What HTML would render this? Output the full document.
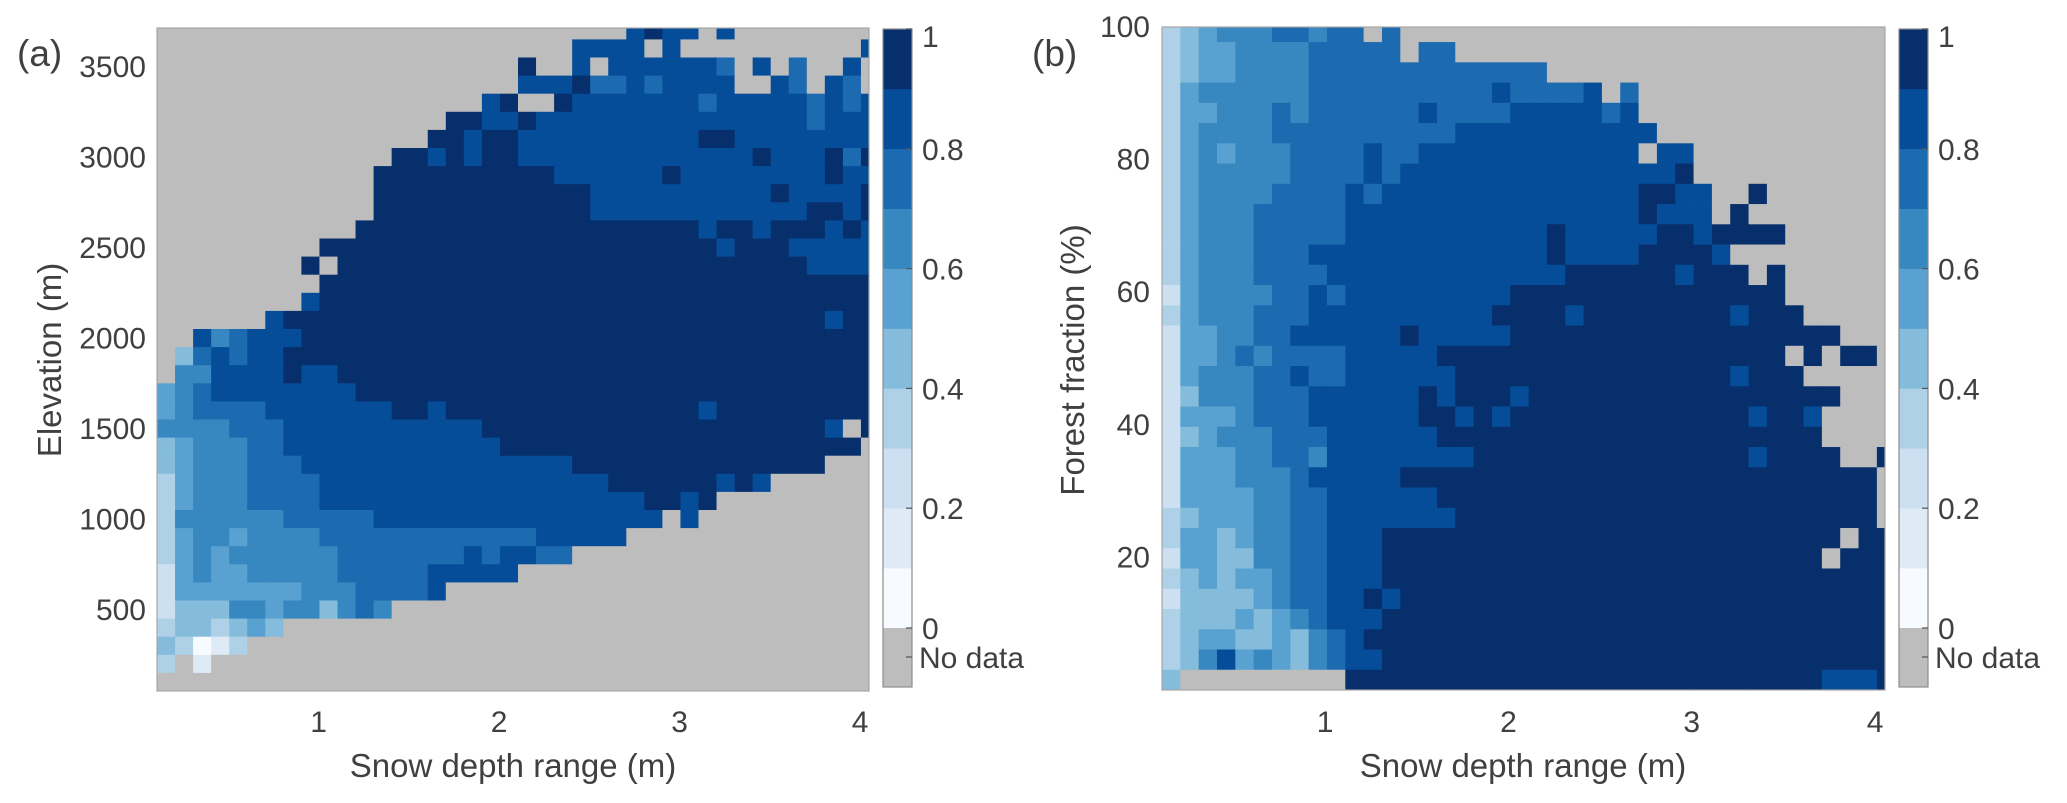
<!DOCTYPE html>
<html><head><meta charset="utf-8"><style>
html,body{margin:0;padding:0;background:#fff;}
svg{display:block;font-family:"Liberation Sans",sans-serif;fill:#404040;}
</style></head><body>
<svg id="fig" width="2067" height="803" viewBox="0 0 2067 803" xmlns="http://www.w3.org/2000/svg">
<defs>
<clipPath id="clipA"><rect x="157" y="28" width="712" height="663"/></clipPath>
<clipPath id="clipB"><rect x="1162" y="27" width="723" height="663"/></clipPath>
</defs>
<g id="panelA"><g id="cellsA" clip-path="url(#clipA)"></g></g>
<g id="panelB"><g id="cellsB" clip-path="url(#clipB)"></g></g>
<g id="overlay"></g>
</svg>
<script>
// ---- data: colour classes per cell ('.' = no data, 0..9 = class of 0.1 width), rows top -> bottom, run-length tokens
const levelColors = ["#f7fbff","#deebf7","#cde0f2","#afd1e7","#85bcdc","#58a1d0","#3787c0","#1c6ab0","#064d99","#072f6b"];
const noDataColor = "#bdbdbd";
const colorbarTicks = [0,0.2,0.4,0.6,0.8,1];
const colorbarLabels = ["0","0.2","0.4","0.6","0.8","1"];
const depthTicks = [1,2,3,4];
const elevTicks = [500,1000,1500,2000,2500,3000,3500];
const forestTicks = [20,40,60,80,100];
const gridA = [
".26 8 9 82 . 8 .8",".23 84 . 8 .10 8",".20 9 .2 8 . 86 7 . 8 . 7 .2 8 .",
".20 83 9 72 8 7 84 .2 8 7 . 8 7 .",".18 8 9 .2 9 87 7 85 7 8 7 8",".16 92 82 9 815 7 83",
".15 92 8 92 810 92 88",".13 92 8 9 8 92 813 9 83 9 7 9",".12 910 86 9 88 9 82",
".12 912 810 9 84 9",".12 912 812 92 8 9",".11 919 8 92 8 93 8 9 8",
".9 922 8 93 85",".8 9 . 926 84",".9 931",".8 8 931",".6 8 930 8 92",
".2 8 6 7 83 932",". 4 7 8 7 82 933",". 62 84 9 82 930","5 6 7 88 929",
"5 6 74 87 92 8 914 8 99","64 73 811 919 8 . 9","4 5 63 72 812 920 .",
"4 5 63 73 815 914 .3","3 5 63 74 816 96 8 9 8 .6","3 5 63 74 818 92 8 9 .9",
"3 66 75 816 . 8 .10","3 5 62 5 64 712 85 .14","3 5 6 5 66 77 8 7 82 72 .17",
"2 5 6 52 65 75 85 .20","2 57 63 74 8 .24","2 43 62 5 62 4 6 7 6 .27",
"3 42 3 4 5 4 .33","4 3 0 1 3 .35","3 . 1 .37",".40"];
const gridB = [
"3 4 5 63 72 6 72 . 7 .27","3 4 52 64 75 . 72 .24","3 4 52 64 713 .19",
"3 5 66 710 8 74 8 . 7 .14","3 52 63 7 6 76 8 74 85 7 8 .14","3 5 64 710 811 .13",
"3 5 6 5 63 74 8 72 812 . 82 .11","3 5 65 74 8 7 815 9 .11","3 5 64 74 8 7 814 92 82 .2 9 .7",
"3 5 63 75 816 9 83 . 9 .8","3 5 63 75 811 9 85 92 8 94 .6","3 5 63 73 813 9 84 94 8 .9",
"3 5 63 74 813 96 8 93 . 9 .6","2 5 64 72 8 7 89 915 .6","3 5 63 73 810 94 8 98 8 93 .5",
"2 52 62 72 86 9 85 918 .3","2 52 6 7 6 74 85 919 . 9 . 92 .","2 5 63 72 8 72 86 915 8 93 .5",
"2 4 63 73 86 9 8 93 8 917 .3","2 53 6 73 86 92 8 9 8 913 8 92 8 .4","2 4 5 63 73 86 921 .4",
"2 53 62 72 6 88 915 8 94 .2 9","2 53 63 7 85 926 .","2 54 62 72 86 924 .",
"3 4 53 62 72 87 923 .","3 52 4 5 62 72 83 925 . 92","2 52 42 62 72 83 924 . 93",
"3 4 5 4 52 6 72 83 928","2 44 5 6 72 82 9 8 927","3 43 5 4 5 6 7 83 928",
"3 4 52 42 5 4 6 7 8 929","3 4 6 8 5 6 5 4 6 7 82 928","4 .9 926 83 9"];

// ---- axes
const xA = v => 157 + (v - 0.105) * 180.5;
const yA = e => 610 - (e - 500) * 0.181;
const xB = v => 1162 + (v - 0.11) * 183.3;
const yB = f => 690 - f * 6.63;
const cbY = v => 628 - v * 599;
const depthStartA = 0.105, depthStartB = 0.11, depthStep = 0.1;
const elevStart = 52.5, elevStep = 100;
const forestStart = 0, forestStep = 3.054;

const NS = "http://www.w3.org/2000/svg";
function el(tag, attrs, parent){const e=document.createElementNS(NS,tag);for(const k in attrs)e.setAttribute(k,attrs[k]);parent.appendChild(e);return e;}
function decode(row){const out=[];row.split(" ").forEach(t=>{const c=t[0];const n=t.length>1?parseInt(t.slice(1)):1;for(let i=0;i<n;i++)out.push(c);});return out;}

function drawGrid(grid, g, xf, yf, xs, xstep, ys, ystep, name){
  const nRows = grid.length;
  grid.forEach((row, i) => {
    const r = nRows - 1 - i;
    decode(row).forEach((c, k) => {
      const x0 = xf(xs + xstep*k), x1 = xf(xs + xstep*(k+1));
      const y0 = yf(ys + ystep*(r+1)), y1 = yf(ys + ystep*r);
      const rect = el("rect",{x:x0.toFixed(2),y:y0.toFixed(2),width:(x1-x0+0.4).toFixed(2),height:(y1-y0+0.4).toFixed(2),fill:c==="."?noDataColor:levelColors[+c]},g);
      
      
    });
  });
}
drawGrid(gridA, document.getElementById("cellsA"), xA, yA, depthStartA, depthStep, elevStart, elevStep, "heatmap-cell-a");
drawGrid(gridB, document.getElementById("cellsB"), xB, yB, depthStartB, depthStep, forestStart, forestStep, "heatmap-cell-b");

const ov = document.getElementById("overlay");
function txt(s, attrs, name){const t=el("text",attrs,ov);t.textContent=s;return t;}

// frames
const fA = el("rect",{x:157,y:28,width:712,height:663,fill:"none",stroke:"#a6a6a6","stroke-width":1.2},ov);


const fB = el("rect",{x:1162,y:27,width:723,height:663,fill:"none",stroke:"#a6a6a6","stroke-width":1.2},ov);



// ticks
depthTicks.forEach(v=>{
  txt(String(v),{x:xA(v),y:732,"font-size":30,"text-anchor":"middle"},"x-tick-label-a");
  txt(String(v),{x:xB(v),y:732,"font-size":30,"text-anchor":"middle"},"x-tick-label-b");
});
elevTicks.forEach(v=>{ txt(String(v),{x:146,y:yA(v)+10,"font-size":30,"text-anchor":"end"},"y-tick-label-a"); });
forestTicks.forEach(v=>{ txt(String(v),{x:1150,y:yB(v)+10,"font-size":30,"text-anchor":"end"},"y-tick-label-b"); });

txt("Snow depth range (m)",{x:513,y:777,"font-size":33,"text-anchor":"middle"},"x-axis-title-a");
txt("Snow depth range (m)",{x:1523,y:777,"font-size":33,"text-anchor":"middle"},"x-axis-title-b");
txt("Elevation (m)",{x:0,y:0,"font-size":33,"text-anchor":"middle",transform:"translate(61,360) rotate(-90)"},"y-axis-title-a");
txt("Forest fraction (%)",{x:0,y:0,"font-size":33,"text-anchor":"middle",transform:"translate(1084,360) rotate(-90)"},"y-axis-title-b");
txt("(a)",{x:17,y:66,"font-size":37},"panel-label-a");
txt("(b)",{x:1032,y:66,"font-size":37},"panel-label-b");

// colorbars
[[883,922,"a"],[1899,1938,"b"]].forEach(([cx,lx,id])=>{
  for(let i=0;i<10;i++){
    const r=el("rect",{x:cx,y:cbY((i+1)/10),width:29,height:cbY(i/10)-cbY((i+1)/10)+0.3,fill:levelColors[i]},ov);
    
    
  }
  const nd=el("rect",{x:cx,y:628,width:29,height:59,fill:noDataColor},ov);
  
  
  const fr=el("rect",{x:cx,y:29,width:29,height:658,fill:"none",stroke:"#8c8c8c","stroke-width":1.2},ov);
  
  
  colorbarTicks.forEach((v,i)=>{
    const tk=el("line",{x1:cx+29,x2:cx+23,y1:cbY(v),y2:cbY(v),stroke:"#555","stroke-width":1.2},ov);
    
    
    txt(colorbarLabels[i],{x:lx,y:cbY(v)+(v===1?18:11),"font-size":30},"colorbar-label-"+id);
  });
  const tk2=el("line",{x1:cx+29,x2:cx+23,y1:657,y2:657,stroke:"#555","stroke-width":1.2},ov);
  
  
  txt("No data",{x:lx-3,y:668,"font-size":30},"colorbar-nodata-label-"+id);
});
</script>
</body></html>
